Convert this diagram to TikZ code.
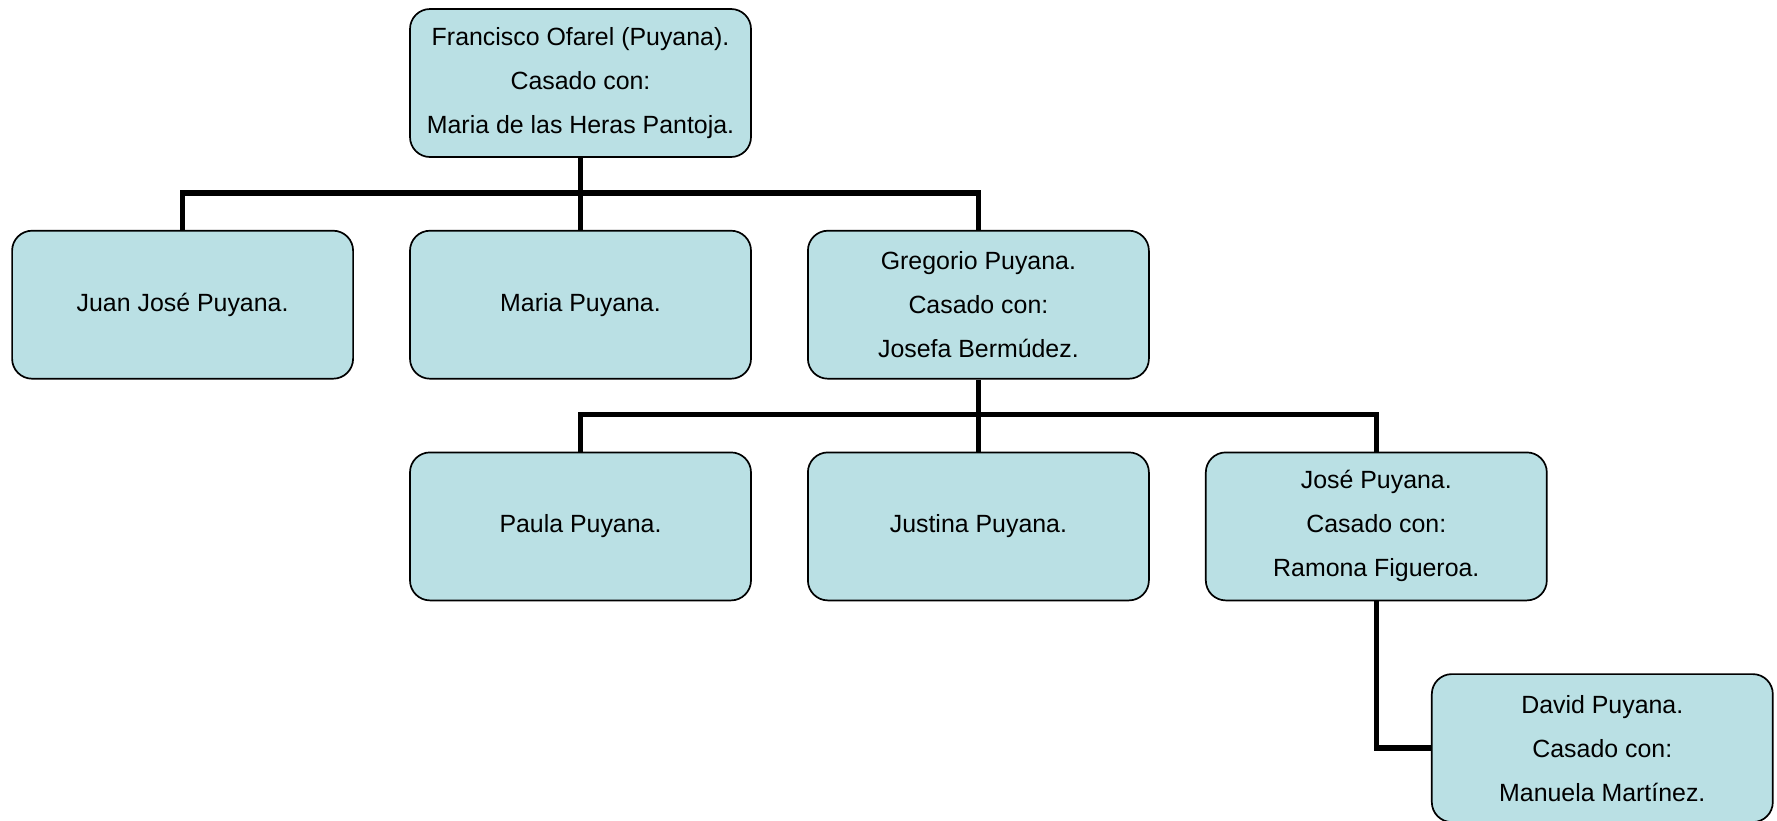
\documentclass[tikz,border=0pt]{standalone}
\usepackage{fontspec}
\setmainfont{Liberation Sans}
\usetikzlibrary{positioning}
\definecolor{boxfill}{RGB}{186,224,228}
\begin{document}
\begin{tikzpicture}[node distance={36pt and 27.6pt}, main/.style = {draw, line width=0.85pt, fill=boxfill, rounded corners=10pt, minimum width=170.5pt, minimum height=74pt, align=center, inner sep=0pt, font=\fontsize{12.45}{22}\selectfont}, conn/.style = {line width=2.7pt}]
		\useasboundingbox (0,0) rectangle (888.5pt,-410pt);
		\node[main] (top) at (290.25pt,-41.5pt) {Francisco Ofarel (Puyana).\\Casado con:\\Maria de las Heras Pantoja.};
		\node[main] (maria) [below=of top] {Maria Puyana.};
		\node[main] (juan) [left=of maria] {Juan José Puyana.};
		\node[main] (gregorio) [right=of maria] {Gregorio Puyana.\\Casado con:\\Josefa Bermúdez.};
		\node[main] (justina) [below=of gregorio] {Justina Puyana.};
		\node[main] (paula) [left=of justina] {Paula Puyana.};
		\node[main] (jose) [right=of justina] {José Puyana.\\Casado con:\\Ramona Figueroa.};
		\node[main] (david) [below=of jose, xshift=113pt] {David Puyana.\\Casado con:\\Manuela Martínez.};

		\draw[conn] (top.south) -- (maria.north);
		\draw[conn] (juan.north) |- ([yshift=18.4pt]maria.north) -| (gregorio.north);
		\draw[conn] (gregorio.south) -- (justina.north);
		\draw[conn] (paula.north) |- ([yshift=18.4pt]justina.north) -| (jose.north);
		\draw[conn] (jose.south) |- (david.west);

	\end{tikzpicture}
\end{document}
